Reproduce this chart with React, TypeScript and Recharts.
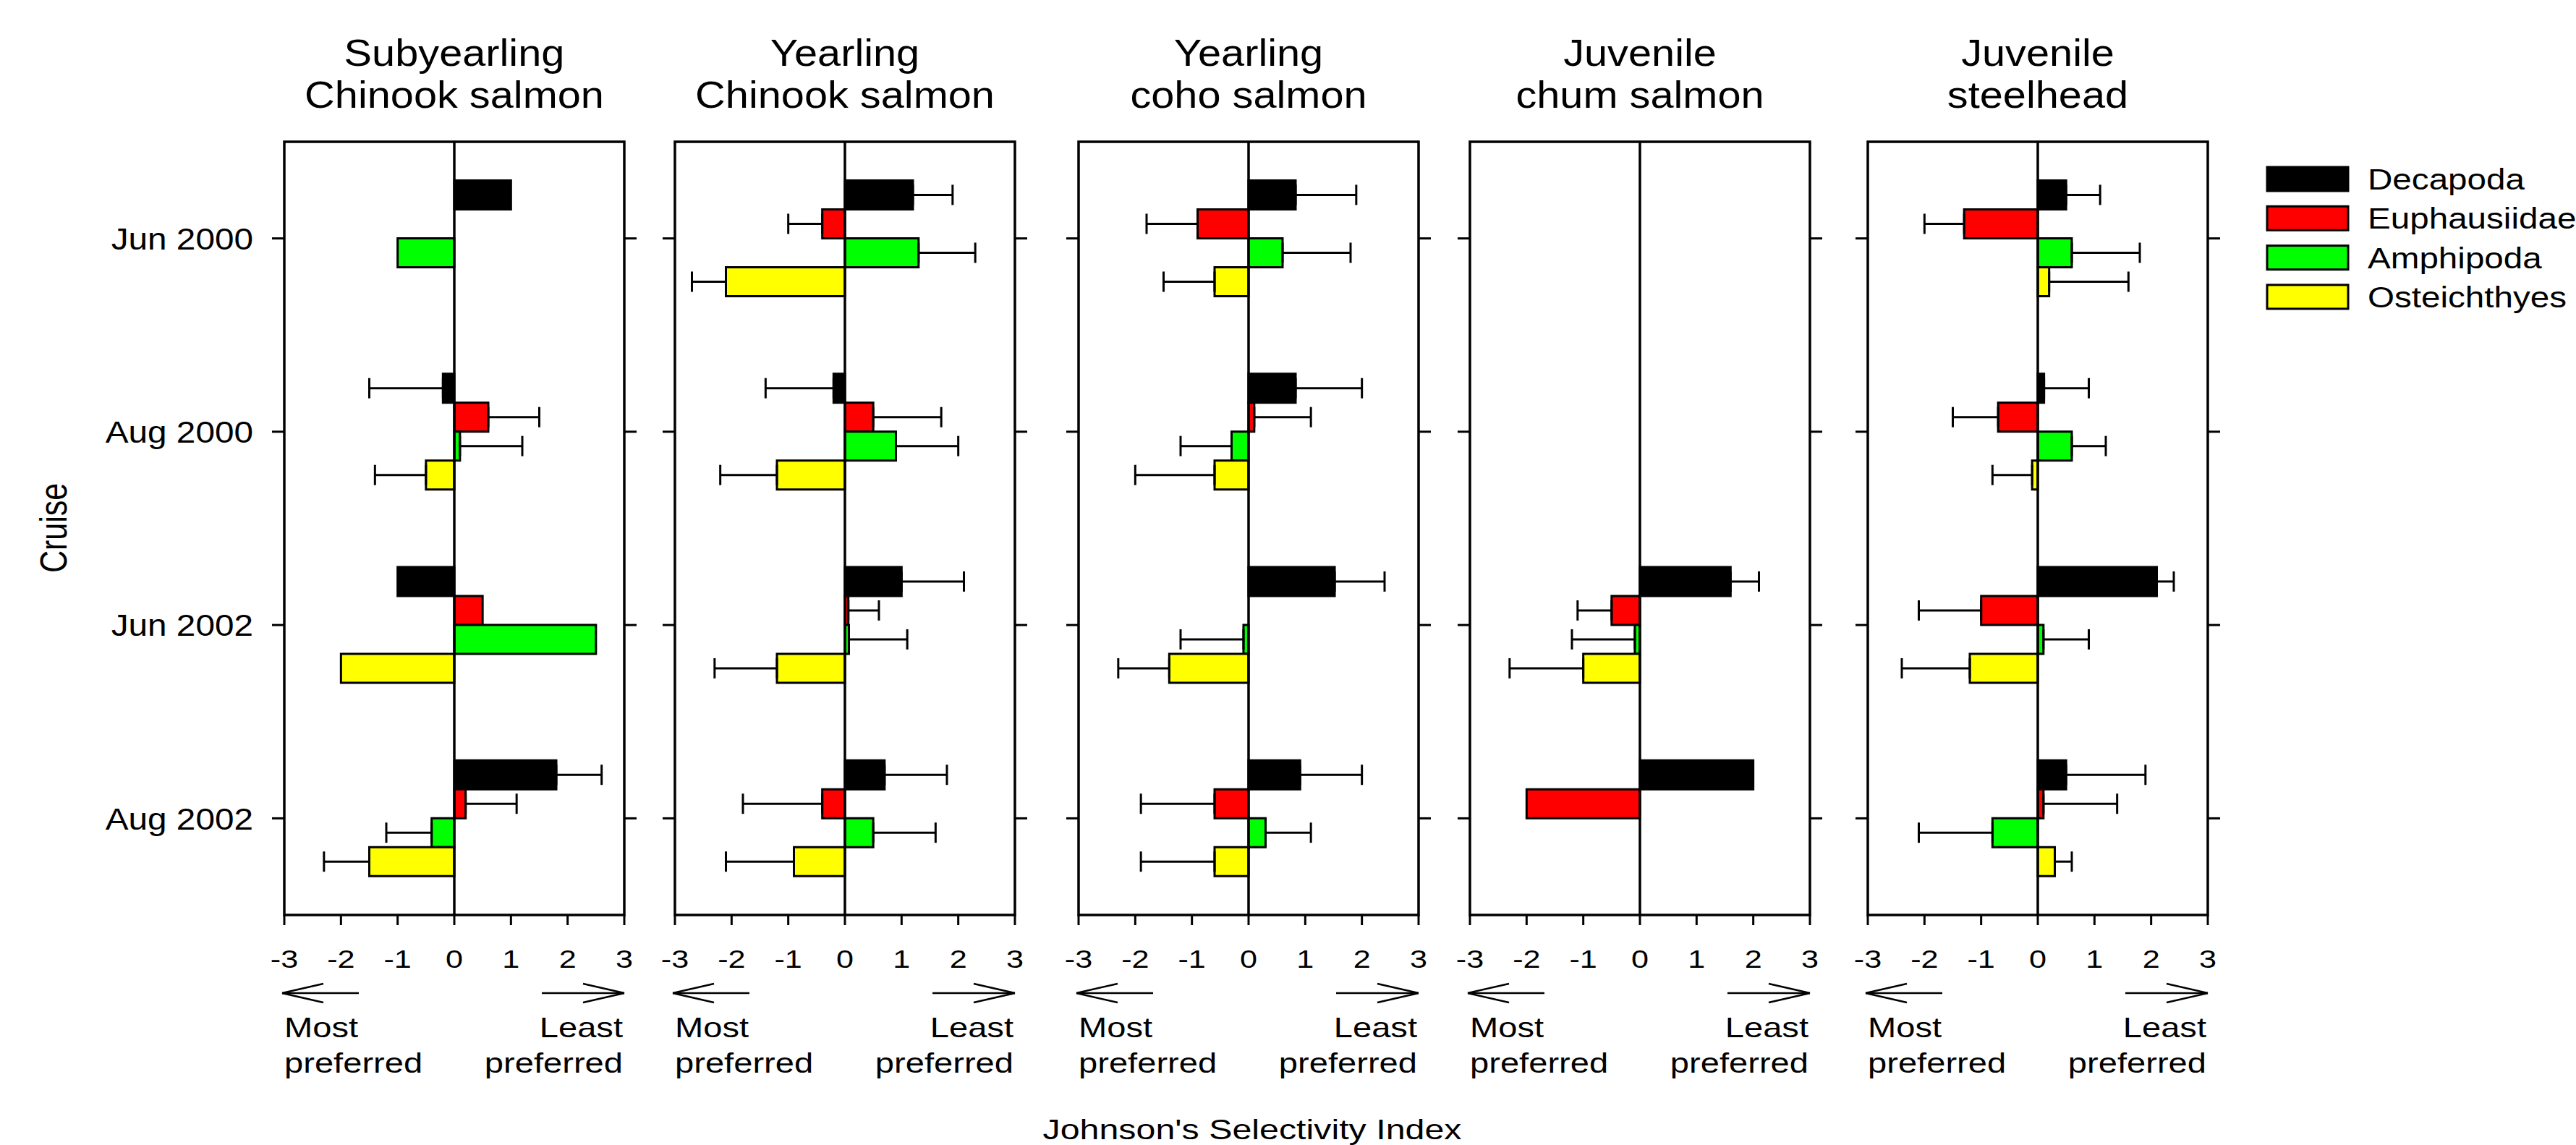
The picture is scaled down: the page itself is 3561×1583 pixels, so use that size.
import React from "react";
import { BarChart, Bar, XAxis, YAxis, ErrorBar, ReferenceLine, ReferenceArea } from "recharts";

const cruises = ["Jun 2000", "Aug 2000", "Jun 2002", "Aug 2002"];
const taxa = ["Decapoda", "Euphausiidae", "Amphipoda", "Osteichthyes"];
const taxonColors = ["#000000", "#ff0000", "#00ff00", "#ffff00"];
const xTicks = [-3, -2, -1, 0, 1, 2, 3];

// Johnson's index, rows = taxa, cols = cruises (null = no bar)
const subChinookIndex = [
  [1.0, -0.2, -1.0, 1.8],
  [null, 0.6, 0.5, 0.2],
  [-1.0, 0.1, 2.5, -0.4],
  [null, -0.5, -2.0, -1.5],
];
// where the whisker ends (null = no whisker)
const subChinookWhisker = [
  [null, -1.5, null, 2.6],
  [null, 1.5, null, 1.1],
  [null, 1.2, null, -1.2],
  [null, -1.4, null, -2.3],
];

const yrChinookIndex = [
  [1.2, -0.2, 1.0, 0.7],
  [-0.4, 0.5, 0.06, -0.4],
  [1.3, 0.9, 0.07, 0.5],
  [-2.1, -1.2, -1.2, -0.9],
];
const yrChinookWhisker = [
  [1.9, -1.4, 2.1, 1.8],
  [-1.0, 1.7, 0.6, -1.8],
  [2.3, 2.0, 1.1, 1.6],
  [-2.7, -2.2, -2.3, -2.1],
];

const cohoIndex = [
  [0.83, 0.83, 1.52, 0.91],
  [-0.9, 0.1, 0, -0.6],
  [0.6, -0.3, -0.09, 0.3],
  [-0.6, -0.6, -1.4, -0.6],
];
const cohoWhisker = [
  [1.9, 2.0, 2.4, 2.0],
  [-1.8, 1.1, 0.7, -1.9],
  [1.8, -1.2, -1.2, 1.1],
  [-1.5, -2.0, -2.3, -1.9],
];

const chumIndex = [
  [null, null, 1.6, 2.0],
  [null, null, -0.5, -2.0],
  [null, null, -0.09, null],
  [null, null, -1.0, null],
];
const chumWhisker = [
  [null, null, 2.1, null],
  [null, null, -1.1, null],
  [null, null, -1.2, null],
  [null, null, -2.3, null],
];

const steelheadIndex = [
  [0.5, 0.11, 2.1, 0.5],
  [-1.3, -0.7, -1.0, 0.1],
  [0.6, 0.6, 0.1, -0.8],
  [0.2, -0.1, -1.2, 0.3],
];
const steelheadWhisker = [
  [1.1, 0.9, 2.4, 1.9],
  [-2.0, -1.5, -2.1, 1.4],
  [1.8, 1.2, 0.9, -2.1],
  [1.6, -0.8, -2.4, 0.6],
];

const panels = [
  { title: ["Subyearling", "Chinook salmon"], index: subChinookIndex, whisker: subChinookWhisker },
  { title: ["Yearling", "Chinook salmon"], index: yrChinookIndex, whisker: yrChinookWhisker },
  { title: ["Yearling", "coho salmon"], index: cohoIndex, whisker: cohoWhisker },
  { title: ["Juvenile", "chum salmon"], index: chumIndex, whisker: chumWhisker },
  { title: ["Juvenile", "steelhead"], index: steelheadIndex, whisker: steelheadWhisker },
];

const FONT = '"Liberation Sans", Arial, Helvetica, sans-serif';
const PLOT_TOP = 196;
const PLOT_W = 470;
const PLOT_H = 1069;
const panelLefts = [393, 933, 1491, 2032, 2582];

function buildRows(index: (number | null)[][], whisker: (number | null)[][]) {
  return cruises.map((cruise, i) => {
    const row: any = { cruise };
    taxa.forEach((_, k) => {
      const v = index[k][i];
      const e = whisker[k][i];
      row["v" + k] = v;
      row["e" + k] = v == null || e == null ? null : e > v ? [0, e - v] : [v - e, 0];
    });
    return row;
  });
}

function Txt({ x, y, sx = 1.18, size, anchor = "start", dy, rotate, children }: any) {
  return (
    <text
      transform={`translate(${x},${y}) scale(${sx},1)${rotate ? ` rotate(${rotate})` : ""}`}
      fontSize={size}
      textAnchor={anchor}
      dy={dy}
      fontFamily={FONT}
      fill="#000"
    >
      {children}
    </text>
  );
}

const XTick = (props: any) => (
  <Txt x={props.x} y={props.y} sx={1.2} size={36} anchor="middle" dy="0.71em">
    {props.payload.value}
  </Txt>
);

const CatTick = (props: any) => (
  <Txt x={props.x} y={props.y} sx={1.11} size={43} anchor="end" dy="0.355em">
    {props.payload.value}
  </Txt>
);

const NoTick = () => <g />;

function Panel({ p, left, first }: any) {
  const yW = first ? 300 : 30;
  const rW = 30;
  const xH = 110;
  const rows = buildRows(p.index, p.whisker);
  return (
    <div style={{ position: "absolute", left: left - yW, top: PLOT_TOP - 5 }}>
      <BarChart
        width={yW + PLOT_W + rW}
        height={5 + PLOT_H + xH}
        data={rows}
        layout="vertical"
        margin={{ top: 5, right: 0, bottom: 0, left: 0 }}
        barCategoryGap="20%"
        barGap={0}
      >
        <XAxis
          type="number"
          domain={[-3, 3]}
          ticks={xTicks}
          interval={0}
          height={xH}
          axisLine={false}
          tickSize={14}
          tickMargin={33}
          tickLine={{ stroke: "#000", strokeWidth: 3 }}
          tick={XTick}
        />
        <YAxis
          type="category"
          dataKey="cruise"
          width={yW}
          axisLine={false}
          tickSize={17}
          tickMargin={26}
          tickLine={{ stroke: "#000", strokeWidth: 3 }}
          tick={first ? CatTick : NoTick}
        />
        <YAxis
          yAxisId="r"
          orientation="right"
          type="category"
          dataKey="cruise"
          width={rW}
          axisLine={false}
          tickSize={17}
          tickLine={{ stroke: "#000", strokeWidth: 3 }}
          tick={NoTick}
        />
        <ReferenceArea x1={-3} x2={3} fill="none" fillOpacity={0} stroke="#000" strokeWidth={3.5} />
        <ReferenceLine x={0} stroke="#000" strokeWidth={3.5} />
        {taxa.map((t, k) => (
          <Bar
            key={t}
            dataKey={"v" + k}
            name={t}
            fill={taxonColors[k]}
            stroke="#000"
            strokeWidth={3}
            isAnimationActive={false}
          >
            <ErrorBar dataKey={"e" + k} direction="x" width={14} stroke="#000" strokeWidth={3} />
          </Bar>
        ))}
      </BarChart>
    </div>
  );
}

export default function App() {
  return (
    <div
      style={{
        position: "absolute",
        left: 0,
        top: 0,
        width: 3561,
        height: 1583,
        background: "#fff",
        overflow: "hidden",
      }}
    >
      {panels.map((p, i) => (
        <Panel key={i} p={p} left={panelLefts[i]} first={i === 0} />
      ))}
      <svg
        width={3561}
        height={1583}
        style={{ position: "absolute", left: 0, top: 0, pointerEvents: "none" }}
      >
        {panels.map((p, i) => {
          const L = panelLefts[i];
          const cx = L + PLOT_W / 2;
          return (
            <g key={i}>
              <Txt x={cx} y={91} sx={1.11} size={52} anchor="middle">{p.title[0]}</Txt>
              <Txt x={cx} y={149} sx={1.11} size={52} anchor="middle">{p.title[1]}</Txt>
              <g stroke="#000" strokeWidth={2.5} fill="none">
                <line x1={L - 3} y1={1373} x2={L + 103} y2={1373} />
                <line x1={L - 3} y1={1373} x2={L + 54} y2={1360} />
                <line x1={L - 3} y1={1373} x2={L + 54} y2={1386} />
                <line x1={L + 356} y1={1373} x2={L + 470} y2={1373} />
                <line x1={L + 470} y1={1373} x2={L + 413} y2={1360} />
                <line x1={L + 470} y1={1373} x2={L + 413} y2={1386} />
              </g>
              <Txt x={L} y={1434} sx={1.24} size={38}>Most</Txt>
              <Txt x={L} y={1483} sx={1.24} size={38}>preferred</Txt>
              <Txt x={L + 468} y={1434} sx={1.24} size={38} anchor="end">Least</Txt>
              <Txt x={L + 468} y={1483} sx={1.24} size={38} anchor="end">preferred</Txt>
            </g>
          );
        })}
        {taxa.map((t, k) => (
          <g key={t}>
            <rect
              x={3134}
              y={231 + k * 54.3}
              width={112}
              height={33}
              fill={taxonColors[k]}
              stroke="#000"
              strokeWidth={3}
            />
            <Txt x={3273} y={262 + k * 54.3} sx={1.19} size={40}>{t}</Txt>
          </g>
        ))}
        <Txt x={74} y={730} sx={1.2} size={43} anchor="middle" dy="0.355em" rotate={-90}>
          Cruise
        </Txt>
        <Txt x={1731} y={1575} sx={1.24} size={39} anchor="middle">
          Johnson's Selectivity Index
        </Txt>
      </svg>
    </div>
  );
}
